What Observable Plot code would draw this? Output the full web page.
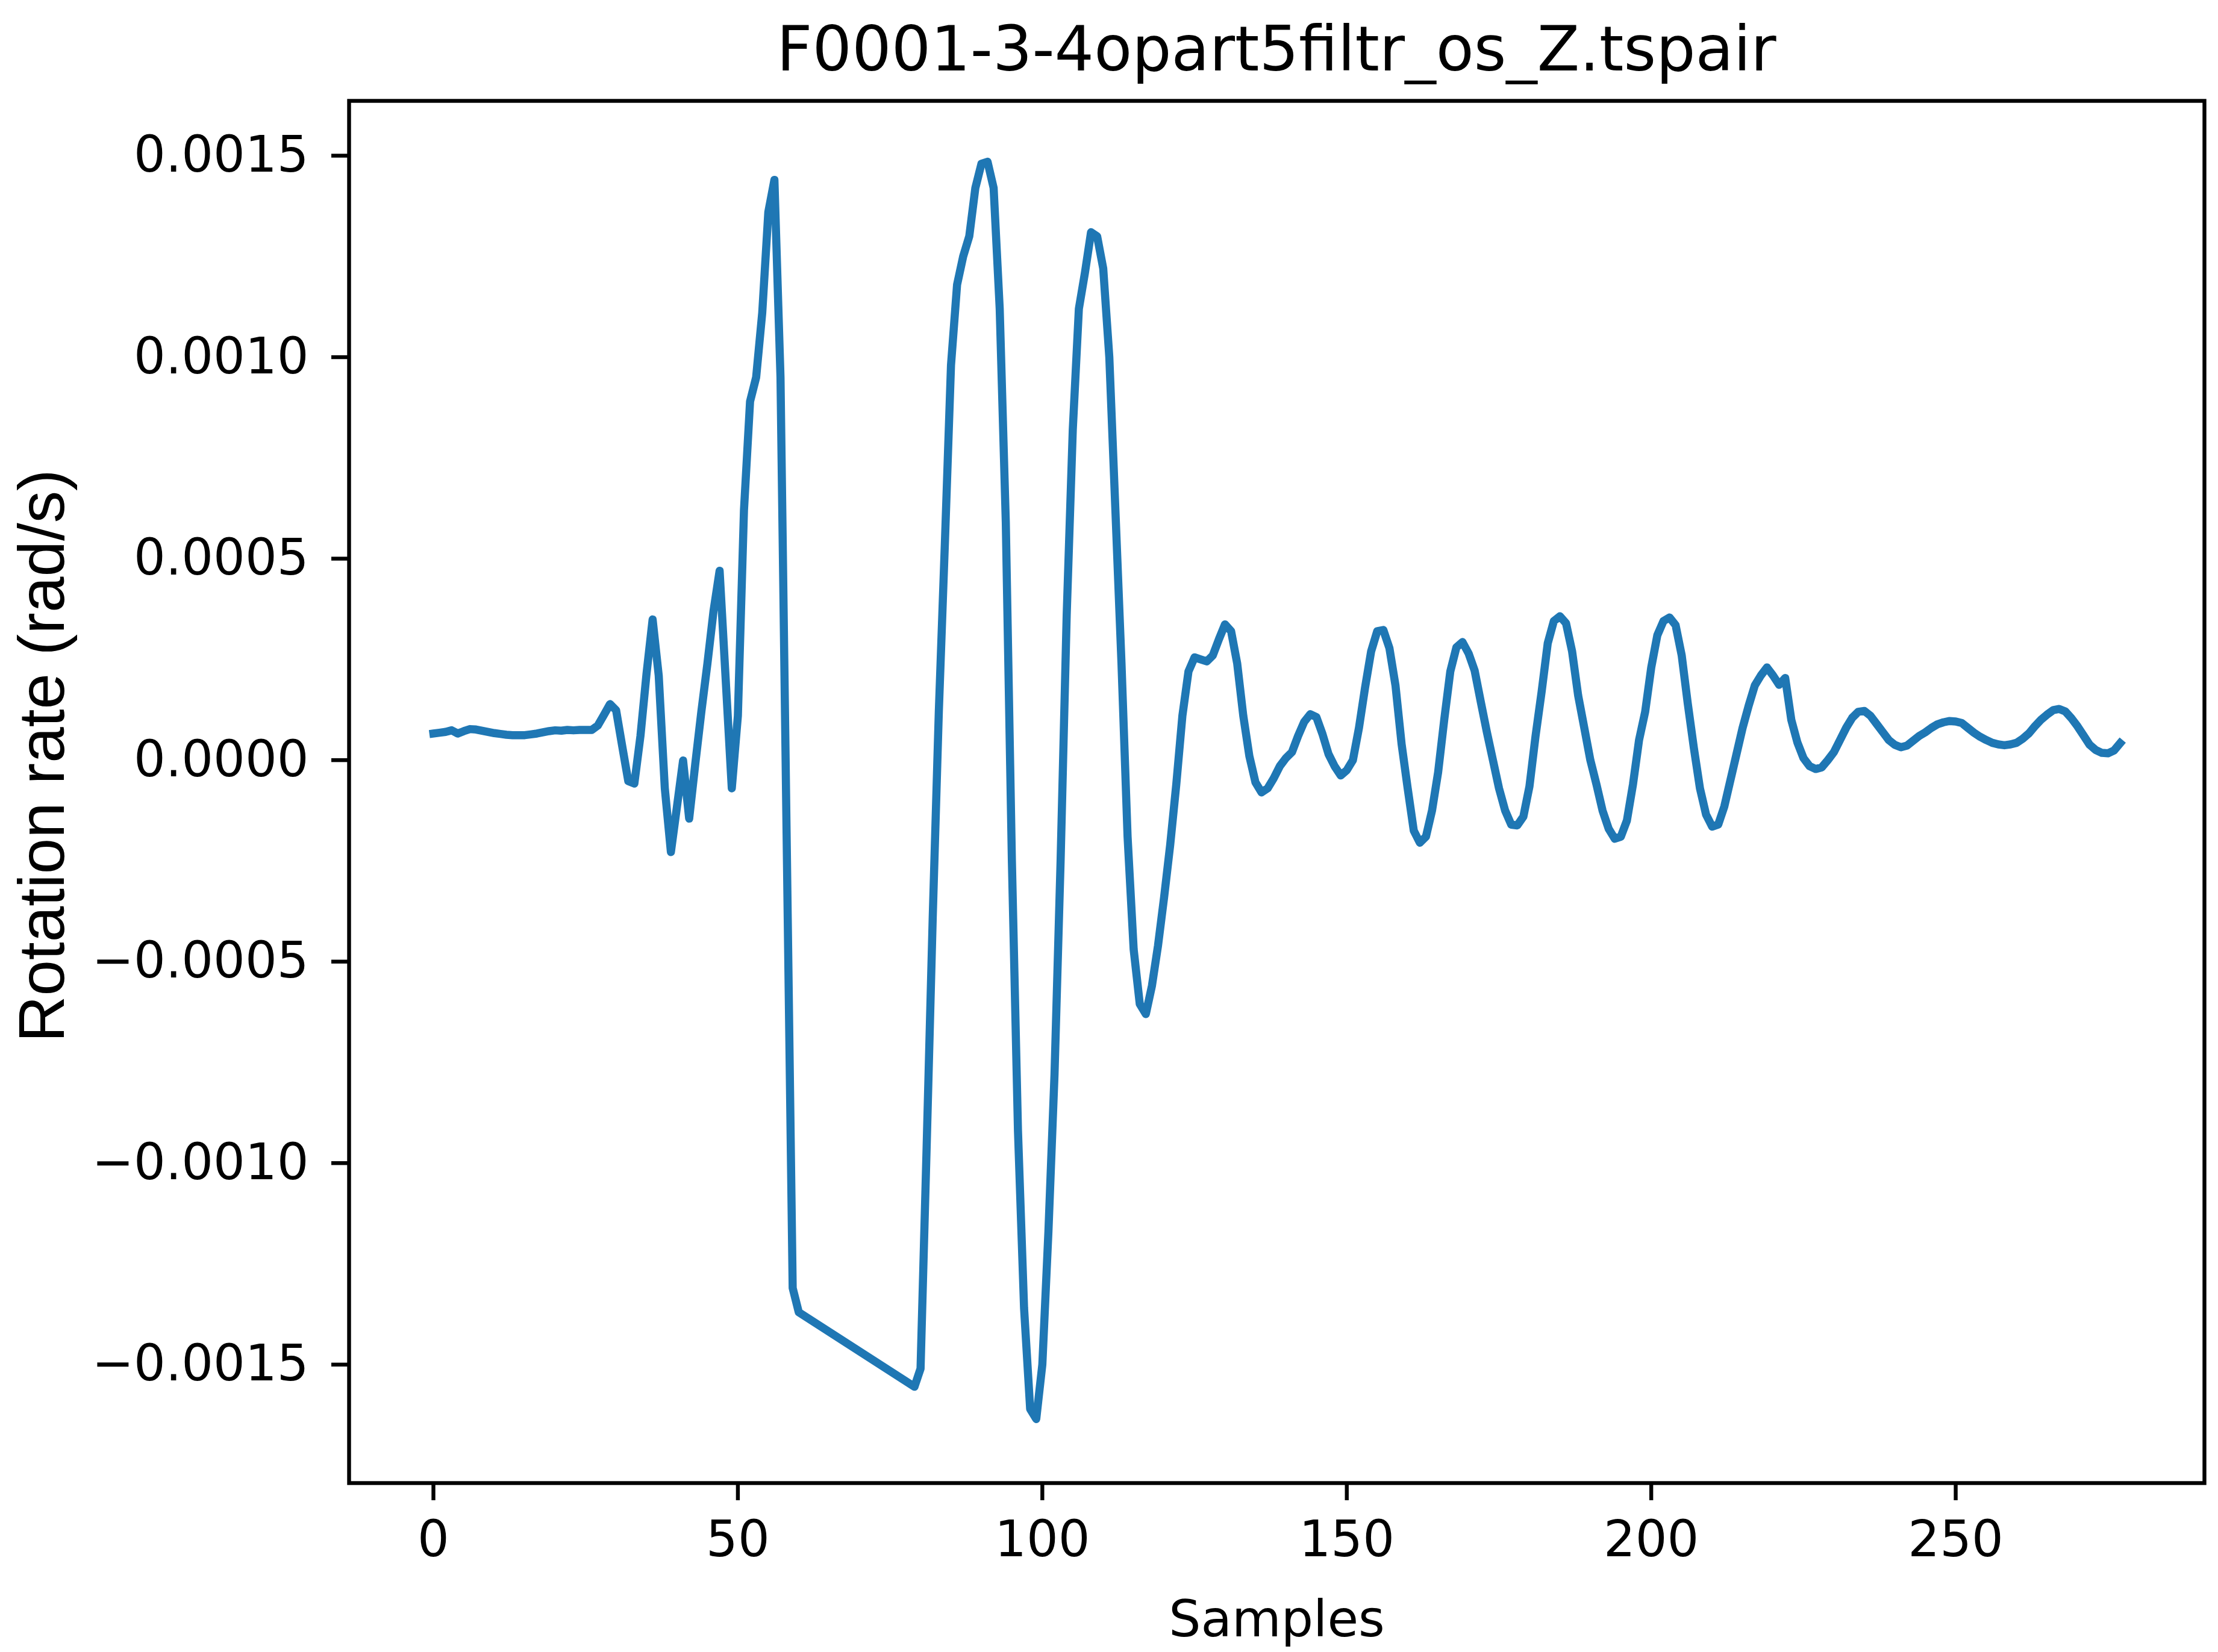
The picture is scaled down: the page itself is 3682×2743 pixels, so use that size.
<!DOCTYPE html>
<html>
<head>
<meta charset="utf-8">
<script src="https://cdn.jsdelivr.net/npm/d3@7"></script>
<script src="https://cdn.jsdelivr.net/npm/@observablehq/plot@0.6"></script>
<style>
  html, body { margin: 0; padding: 0; background: #ffffff; }
  #wrap { width: 3682px; height: 2743px; position: relative; overflow: hidden; background: #ffffff; }
  #title {
    position: absolute; left: 579px; top: 0; width: 3080px; height: 140px;
    box-sizing: border-box; padding-top: 30px;
    font-family: "DejaVu Sans", sans-serif; font-size: 103px; line-height: 103px;
    text-align: center; color: #000; white-space: nowrap;
  }
  #chart { position: absolute; left: 0; top: 140px; }
</style>
</head>
<body>
<div id="wrap">
  <div id="title">F0001-3-4opart5filtr_os_Z.tspair</div>
  <div id="chart"></div>
</div>
<script>
// ---- data ----
const titleText = "F0001-3-4opart5filtr_os_Z.tspair";
const xLabel = "Samples";
const yLabel = "Rotation rate (rad/s)";
const xTicks = [0, 50, 100, 150, 200, 250];
const yTicks = [-0.0015, -0.0010, -0.0005, 0, 0.0005, 0.0010, 0.0015];

// sample index (samples 61-78 are a straight segment in the picture)
const samples = [
  0,1,2,3,4,5,6,7,8,9,10,11,12,13,14,15,16,17,18,19,20,21,22,23,24,25,26,27,28,29,
  30,31,32,33,34,35,36,37,38,39,40,41,42,43,44,45,46,47,48,49,50,51,52,53,54,55,56,57,58,59,60,
  79,80,81,82,83,84,85,86,87,88,89,
  90,91,92,93,94,95,96,97,98,99,100,101,102,103,104,105,106,107,108,109,
  110,111,112,113,114,115,116,117,118,119,120,121,122,123,124,125,126,127,128,129,
  130,131,132,133,134,135,136,137,138,139,140,141,142,143,144,145,146,147,148,149,
  150,151,152,153,154,155,156,157,158,159,160,161,162,163,164,165,166,167,168,169,
  170,171,172,173,174,175,176,177,178,179,180,181,182,183,184,185,186,187,188,189,
  190,191,192,193,194,195,196,197,198,199,200,201,202,203,204,205,206,207,208,209,
  210,211,212,213,214,215,216,217,218,219,220,221,222,223,224,225,226,227,228,229,
  230,231,232,233,234,235,236,237,238,239,240,241,242,243,244,245,246,247,248,249,
  250,251,252,253,254,255,256,257,258,259,260,261,262,263,264,265,266,267,268,269,
  270,271,272,273,274,275,276,277
];

// rotation rate (rad/s)
const rate = [
  0.000066,0.000068,0.000070,0.000074,0.000066,0.000072,0.000077,0.000076,0.000073,0.000070,
  0.000067,0.000065,0.000063,0.000062,0.000062,0.000062,0.000064,0.000066,0.000069,0.000072,
  0.000074,0.000073,0.000075,0.000074,0.000075,0.000075,0.000075,0.000086,0.000112,0.000139,
  0.000124,0.000035,-0.000052,-0.000058,0.000060,0.000215,0.000349,0.000210,-0.000070,-0.000228,
  -0.000115,-0.000001,-0.000145,-0.000010,0.000120,0.000240,0.000370,0.000470,0.000200,-0.000070,
  0.000110,0.000620,0.000890,0.000950,0.001110,0.001360,0.001440,0.000950,-0.000180,-0.001310,
  -0.001370,
  -0.001555,-0.001510,-0.000960,-0.000390,0.000120,0.000540,0.000980,0.001180,0.001250,0.001300,0.001420,
  0.001480,0.001485,0.001420,0.001120,0.000590,-0.000250,-0.000920,-0.001360,-0.001610,-0.001635,
  -0.001500,-0.001170,-0.000780,-0.000250,0.000360,0.000820,0.001120,0.001210,0.001310,0.001300,
  0.001220,0.001000,0.000620,0.000240,-0.000190,-0.000470,-0.000605,-0.000630,-0.000560,-0.000460,
  -0.000340,-0.000210,-0.000060,0.000110,0.000220,0.000255,0.000250,0.000245,0.000260,0.000300,
  0.000337,0.000320,0.000240,0.000110,0.000010,-0.000055,-0.000080,-0.000070,-0.000045,-0.000015,
  0.000005,0.000020,0.000060,0.000095,0.000114,0.000107,0.000065,0.000015,-0.000015,-0.000038,
  -0.000025,0.000000,0.000080,0.000180,0.000270,0.000320,0.000323,0.000278,0.000185,0.000040,
  -0.000070,-0.000175,-0.000205,-0.000190,-0.000125,-0.000030,0.000100,0.000220,0.000280,0.000293,
  0.000265,0.000222,0.000145,0.000070,0.000000,-0.000070,-0.000125,-0.000160,-0.000162,-0.000140,
  -0.000065,0.000060,0.000170,0.000290,0.000345,0.000357,0.000340,0.000270,0.000160,0.000080,
  0.000000,-0.000060,-0.000125,-0.000170,-0.000195,-0.000190,-0.000150,-0.000060,0.000050,0.000120,
  0.000230,0.000310,0.000345,0.000354,0.000335,0.000260,0.000140,0.000030,-0.000070,-0.000135,
  -0.000165,-0.000160,-0.000115,-0.000050,0.000015,0.000080,0.000135,0.000185,0.000210,0.000230,
  0.000210,0.000187,0.000204,0.000100,0.000044,0.000005,-0.000015,-0.000022,-0.000018,0.000000,
  0.000020,0.000050,0.000080,0.000105,0.000120,0.000122,0.000110,0.000090,0.000070,0.000050,
  0.000038,0.000032,0.000036,0.000048,0.000060,0.000069,0.000080,0.000089,0.000094,0.000097,
  0.000096,0.000092,0.000080,0.000068,0.000058,0.000050,0.000043,0.000039,0.000037,0.000039,
  0.000043,0.000053,0.000066,0.000084,0.000100,0.000113,0.000124,0.000127,0.000121,0.000104,
  0.000084,0.000061,0.000038,0.000025,0.000018,0.000017,0.000024,0.000042
];

const data = samples.map((s, i) => ({sample: s, value: rate[i]}));

document.getElementById("title").textContent = titleText;

const fmtY = v => {
  const a = Math.abs(v).toFixed(4);
  return (v < -1e-12 ? "\u2212" : "") + a;
};

const chart = Plot.plot({
  width: 3682,
  height: 2603,
  marginLeft: 579,
  marginRight: 23,
  marginTop: 27,
  marginBottom: 281,
  style: {fontFamily: "DejaVu Sans, sans-serif", fontSize: "83px", color: "#000", background: "#ffffff", overflow: "visible"},
  x: {domain: [-13.85, 290.85], label: null},
  y: {domain: [-0.001794, 0.001636], label: null},
  marks: [
    Plot.line(data, {x: "sample", y: "value", stroke: "#1f77b4", strokeWidth: 13.5, strokeLinejoin: "round", strokeLinecap: "square"}),
    Plot.frame({stroke: "#000", strokeWidth: 6.4}),
    Plot.axisX({ticks: xTicks, tickSize: 29, tickPadding: 34, strokeWidth: 6.4, fontSize: 83, tickFormat: d => String(d), label: null}),
    Plot.axisY({ticks: yTicks, tickSize: 29, tickPadding: 38, strokeWidth: 6.4, fontSize: 83, tickFormat: fmtY, label: null}),
    Plot.text([xLabel], {text: d => d, frameAnchor: "bottom", lineAnchor: "bottom", dy: 254, fontSize: 84, fontFamily: "DejaVu Sans"}),
    Plot.text([yLabel], {text: d => d, frameAnchor: "left", lineAnchor: "bottom", textAnchor: "middle", rotate: -90, dx: -474, dy: -60, fontSize: 107, fontFamily: "Liberation Sans, Arial, sans-serif"})
  ]
});
document.getElementById("chart").appendChild(chart);
</script>
</body>
</html>
